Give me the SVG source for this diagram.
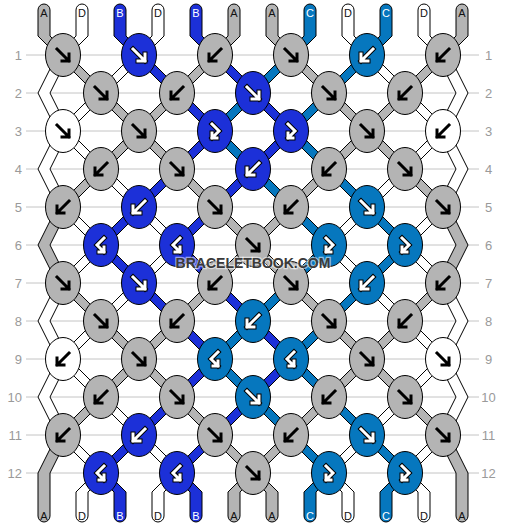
<svg xmlns="http://www.w3.org/2000/svg" xmlns:xlink="http://www.w3.org/1999/xlink" width="506" height="528" viewBox="0 0 506 528">
<style>
.bg{fill:#ffffff}
.rl{stroke:#c4c4c4;stroke-width:1}
.rn{font-family:"Liberation Sans",Arial,sans-serif;font-size:13px;fill:#9a9a9a}
.sl{font-family:"Liberation Sans",Arial,sans-serif;font-size:11px;text-anchor:middle}
.s{stroke:#000;stroke-width:1;stroke-linejoin:miter}
.g{fill:#b4b4b4}
.b{fill:#1c30d8}
.c{fill:#0677be}
.w{fill:#ffffff}
.k{stroke:#000;stroke-width:1}
.ab{fill:none;stroke:#000;stroke-width:3;stroke-linecap:square;stroke-linejoin:miter}
.ao{fill:none;stroke:#000;stroke-width:5;stroke-linecap:square;stroke-linejoin:miter}
.aw{fill:none;stroke:#fff;stroke-width:3;stroke-linecap:square;stroke-linejoin:miter}
.tw{fill:#fff}.tk{fill:#111}
.wm{font-family:"Liberation Sans",Arial,sans-serif;font-size:14px;font-weight:bold;text-anchor:middle;fill:#3a3a3a;stroke:#ffffff;stroke-opacity:0.55;stroke-width:2.5;paint-order:stroke}
</style>
<defs>
<path id="F" d="M-6,-6 L6,6 M6,-1 V6 H-1"/>
<path id="FB" d="M-3,-7 L4,0 L-3,7 M-3,2 V7 H2"/>
</defs>
<rect class="bg" x="0" y="0" width="506" height="528"/>
<g id="rows">
<line class="rl" x1="26" y1="55" x2="479" y2="55"/>
<line class="rl" x1="26" y1="93" x2="479" y2="93"/>
<line class="rl" x1="26" y1="131" x2="479" y2="131"/>
<line class="rl" x1="26" y1="169" x2="479" y2="169"/>
<line class="rl" x1="26" y1="207" x2="479" y2="207"/>
<line class="rl" x1="26" y1="245" x2="479" y2="245"/>
<line class="rl" x1="26" y1="283" x2="479" y2="283"/>
<line class="rl" x1="26" y1="321" x2="479" y2="321"/>
<line class="rl" x1="26" y1="359" x2="479" y2="359"/>
<line class="rl" x1="26" y1="397" x2="479" y2="397"/>
<line class="rl" x1="26" y1="435" x2="479" y2="435"/>
<line class="rl" x1="26" y1="473" x2="479" y2="473"/>
<g class="rn" text-anchor="end">
<text x="22" y="59.5">1</text><text x="22" y="97.5">2</text><text x="22" y="135.5">3</text><text x="22" y="173.5">4</text><text x="22" y="211.5">5</text><text x="22" y="249.5">6</text><text x="22" y="287.5">7</text><text x="22" y="325.5">8</text><text x="22" y="363.5">9</text><text x="22" y="401.5">10</text><text x="22" y="439.5">11</text><text x="22" y="477.5">12</text>
</g>
<g class="rn" text-anchor="middle">
<text x="488.5" y="59.5">1</text><text x="488.5" y="97.5">2</text><text x="488.5" y="135.5">3</text><text x="488.5" y="173.5">4</text><text x="488.5" y="211.5">5</text><text x="488.5" y="249.5">6</text><text x="488.5" y="287.5">7</text><text x="488.5" y="325.5">8</text><text x="488.5" y="363.5">9</text><text x="488.5" y="401.5">10</text><text x="488.5" y="439.5">11</text><text x="488.5" y="477.5">12</text>
</g>
</g>
<g id="connectors">
<path id="s0" class="s g" d="M38,10 L38,36 57,55 95,93 133,131 171,169 209,207 247,245 285,283 323,321 361,359 399,397 437,435 456,473 456,516 A6,6 0 0 0 468,516 L468,473 449,435 411,397 373,359 335,321 297,283 259,245 221,207 183,169 145,131 107,93 69,55 50,36 50,10 A6,6 0 0 0 38,10 Z"/>
<path id="s1" class="s w" d="M76,10 L76,36 57,55 38,93 57,131 95,169 133,207 171,245 133,283 95,321 57,359 38,397 57,435 95,473 76,492 76,516 A6,6 0 0 0 88,516 L88,492 107,473 69,435 50,397 69,359 107,321 145,283 183,245 145,207 107,169 69,131 50,93 69,55 88,36 88,10 A6,6 0 0 0 76,10 Z"/>
<path id="s2" class="s b" d="M114,10 L114,36 133,55 171,93 209,131 171,169 133,207 95,245 133,283 171,321 209,359 171,397 133,435 95,473 114,492 114,516 A6,6 0 0 0 126,516 L126,492 107,473 145,435 183,397 221,359 183,321 145,283 107,245 145,207 183,169 221,131 183,93 145,55 126,36 126,10 A6,6 0 0 0 114,10 Z"/>
<path id="s3" class="s w" d="M152,10 L152,36 133,55 95,93 57,131 38,169 57,207 95,245 57,283 38,321 57,359 95,397 133,435 171,473 152,492 152,516 A6,6 0 0 0 164,516 L164,492 183,473 145,435 107,397 69,359 50,321 69,283 107,245 69,207 50,169 69,131 107,93 145,55 164,36 164,10 A6,6 0 0 0 152,10 Z"/>
<path id="s4" class="s b" d="M190,10 L190,36 209,55 247,93 285,131 247,169 209,207 171,245 209,283 247,321 285,359 247,397 209,435 171,473 190,492 190,516 A6,6 0 0 0 202,516 L202,492 183,473 221,435 259,397 297,359 259,321 221,283 183,245 221,207 259,169 297,131 259,93 221,55 202,36 202,10 A6,6 0 0 0 190,10 Z"/>
<path id="s5" class="s g" d="M228,10 L228,36 209,55 171,93 133,131 95,169 57,207 38,245 57,283 95,321 133,359 171,397 209,435 247,473 266,492 266,516 A6,6 0 0 0 278,516 L278,492 259,473 221,435 183,397 145,359 107,321 69,283 50,245 69,207 107,169 145,131 183,93 221,55 240,36 240,10 A6,6 0 0 0 228,10 Z"/>
<path id="s6" class="s g" d="M266,10 L266,36 285,55 323,93 361,131 399,169 437,207 456,245 437,283 399,321 361,359 323,397 285,435 247,473 228,492 228,516 A6,6 0 0 0 240,516 L240,492 259,473 297,435 335,397 373,359 411,321 449,283 468,245 449,207 411,169 373,131 335,93 297,55 278,36 278,10 A6,6 0 0 0 266,10 Z"/>
<path id="s7" class="s c" d="M304,10 L304,36 285,55 247,93 209,131 247,169 285,207 323,245 285,283 247,321 209,359 247,397 285,435 323,473 304,492 304,516 A6,6 0 0 0 316,516 L316,492 335,473 297,435 259,397 221,359 259,321 297,283 335,245 297,207 259,169 221,131 259,93 297,55 316,36 316,10 A6,6 0 0 0 304,10 Z"/>
<path id="s8" class="s w" d="M342,10 L342,36 361,55 399,93 437,131 456,169 437,207 399,245 437,283 456,321 437,359 399,397 361,435 323,473 342,492 342,516 A6,6 0 0 0 354,516 L354,492 335,473 373,435 411,397 449,359 468,321 449,283 411,245 449,207 468,169 449,131 411,93 373,55 354,36 354,10 A6,6 0 0 0 342,10 Z"/>
<path id="s9" class="s c" d="M380,10 L380,36 361,55 323,93 285,131 323,169 361,207 399,245 361,283 323,321 285,359 323,397 361,435 399,473 380,492 380,516 A6,6 0 0 0 392,516 L392,492 411,473 373,435 335,397 297,359 335,321 373,283 411,245 373,207 335,169 297,131 335,93 373,55 392,36 392,10 A6,6 0 0 0 380,10 Z"/>
<path id="s10" class="s w" d="M418,10 L418,36 437,55 456,93 437,131 399,169 361,207 323,245 361,283 399,321 437,359 456,397 437,435 399,473 418,492 418,516 A6,6 0 0 0 430,516 L430,492 411,473 449,435 468,397 449,359 411,321 373,283 335,245 373,207 411,169 449,131 468,93 449,55 430,36 430,10 A6,6 0 0 0 418,10 Z"/>
<path id="s11" class="s g" d="M456,10 L456,36 437,55 399,93 361,131 323,169 285,207 247,245 209,283 171,321 133,359 95,397 57,435 38,473 38,516 A6,6 0 0 0 50,516 L50,473 69,435 107,397 145,359 183,321 221,283 259,245 297,207 335,169 373,131 411,93 449,55 468,36 468,10 A6,6 0 0 0 456,10 Z"/>
</g>
<g id="labels" class="sl">
<text class="tk" x="44" y="17">A</text><text class="tk" x="82" y="17">D</text><text class="tw" x="120" y="17">B</text><text class="tk" x="158" y="17">D</text><text class="tw" x="196" y="17">B</text><text class="tk" x="234" y="17">A</text><text class="tk" x="272" y="17">A</text><text class="tw" x="310" y="17">C</text><text class="tk" x="348" y="17">D</text><text class="tw" x="386" y="17">C</text><text class="tk" x="424" y="17">D</text><text class="tk" x="462" y="17">A</text>
<text class="tk" x="44" y="520">A</text><text class="tk" x="82" y="520">D</text><text class="tw" x="120" y="520">B</text><text class="tk" x="158" y="520">D</text><text class="tw" x="196" y="520">B</text><text class="tk" x="234" y="520">A</text><text class="tk" x="272" y="520">A</text><text class="tw" x="310" y="520">C</text><text class="tk" x="348" y="520">D</text><text class="tw" x="386" y="520">C</text><text class="tk" x="424" y="520">D</text><text class="tk" x="462" y="520">A</text>
</g>
<g id="knots">
<!-- row 1 -->
<g id="k1-1"><ellipse class="k g" cx="63" cy="55" rx="17.5" ry="21.5"/><use href="#F" class="ab" transform="translate(63,55)"/></g>
<g id="k1-2"><ellipse class="k b" cx="139" cy="55" rx="17.5" ry="21.5"/><use href="#F" class="ao" transform="translate(139,55)"/><use href="#F" class="aw" transform="translate(139,55)"/></g>
<g id="k1-3"><ellipse class="k g" cx="215" cy="55" rx="17.5" ry="21.5"/><use href="#F" class="ab" transform="translate(215,55) scale(-1,1)"/></g>
<g id="k1-4"><ellipse class="k g" cx="291" cy="55" rx="17.5" ry="21.5"/><use href="#F" class="ab" transform="translate(291,55)"/></g>
<g id="k1-5"><ellipse class="k c" cx="367" cy="55" rx="17.5" ry="21.5"/><use href="#F" class="ao" transform="translate(367,55) scale(-1,1)"/><use href="#F" class="aw" transform="translate(367,55) scale(-1,1)"/></g>
<g id="k1-6"><ellipse class="k g" cx="443" cy="55" rx="17.5" ry="21.5"/><use href="#F" class="ab" transform="translate(443,55) scale(-1,1)"/></g>
<!-- row 2 -->
<g id="k2-1"><ellipse class="k g" cx="101" cy="93" rx="17.5" ry="21.5"/><use href="#F" class="ab" transform="translate(101,93)"/></g>
<g id="k2-2"><ellipse class="k g" cx="177" cy="93" rx="17.5" ry="21.5"/><use href="#F" class="ab" transform="translate(177,93) scale(-1,1)"/></g>
<g id="k2-3"><ellipse class="k b" cx="253" cy="93" rx="17.5" ry="21.5"/><use href="#F" class="ao" transform="translate(253,93)"/><use href="#F" class="aw" transform="translate(253,93)"/></g>
<g id="k2-4"><ellipse class="k g" cx="329" cy="93" rx="17.5" ry="21.5"/><use href="#F" class="ab" transform="translate(329,93)"/></g>
<g id="k2-5"><ellipse class="k g" cx="405" cy="93" rx="17.5" ry="21.5"/><use href="#F" class="ab" transform="translate(405,93) scale(-1,1)"/></g>
<!-- row 3 -->
<g id="k3-1"><ellipse class="k w" cx="63" cy="131" rx="17.5" ry="21.5"/><use href="#F" class="ab" transform="translate(63,131)"/></g>
<g id="k3-2"><ellipse class="k g" cx="139" cy="131" rx="17.5" ry="21.5"/><use href="#F" class="ab" transform="translate(139,131)"/></g>
<g id="k3-3"><ellipse class="k b" cx="215" cy="131" rx="17.5" ry="21.5"/><use href="#FB" class="ao" transform="translate(215,131)"/><use href="#FB" class="aw" transform="translate(215,131)"/></g>
<g id="k3-4"><ellipse class="k b" cx="291" cy="131" rx="17.5" ry="21.5"/><use href="#FB" class="ao" transform="translate(291,131)"/><use href="#FB" class="aw" transform="translate(291,131)"/></g>
<g id="k3-5"><ellipse class="k g" cx="367" cy="131" rx="17.5" ry="21.5"/><use href="#F" class="ab" transform="translate(367,131)"/></g>
<g id="k3-6"><ellipse class="k w" cx="443" cy="131" rx="17.5" ry="21.5"/><use href="#F" class="ab" transform="translate(443,131) scale(-1,1)"/></g>
<!-- row 4 -->
<g id="k4-1"><ellipse class="k g" cx="101" cy="169" rx="17.5" ry="21.5"/><use href="#F" class="ab" transform="translate(101,169) scale(-1,1)"/></g>
<g id="k4-2"><ellipse class="k g" cx="177" cy="169" rx="17.5" ry="21.5"/><use href="#F" class="ab" transform="translate(177,169)"/></g>
<g id="k4-3"><ellipse class="k b" cx="253" cy="169" rx="17.5" ry="21.5"/><use href="#F" class="ao" transform="translate(253,169) scale(-1,1)"/><use href="#F" class="aw" transform="translate(253,169) scale(-1,1)"/></g>
<g id="k4-4"><ellipse class="k g" cx="329" cy="169" rx="17.5" ry="21.5"/><use href="#F" class="ab" transform="translate(329,169) scale(-1,1)"/></g>
<g id="k4-5"><ellipse class="k g" cx="405" cy="169" rx="17.5" ry="21.5"/><use href="#F" class="ab" transform="translate(405,169)"/></g>
<!-- row 5 -->
<g id="k5-1"><ellipse class="k g" cx="63" cy="207" rx="17.5" ry="21.5"/><use href="#F" class="ab" transform="translate(63,207) scale(-1,1)"/></g>
<g id="k5-2"><ellipse class="k b" cx="139" cy="207" rx="17.5" ry="21.5"/><use href="#F" class="ao" transform="translate(139,207) scale(-1,1)"/><use href="#F" class="aw" transform="translate(139,207) scale(-1,1)"/></g>
<g id="k5-3"><ellipse class="k g" cx="215" cy="207" rx="17.5" ry="21.5"/><use href="#F" class="ab" transform="translate(215,207)"/></g>
<g id="k5-4"><ellipse class="k g" cx="291" cy="207" rx="17.5" ry="21.5"/><use href="#F" class="ab" transform="translate(291,207) scale(-1,1)"/></g>
<g id="k5-5"><ellipse class="k c" cx="367" cy="207" rx="17.5" ry="21.5"/><use href="#F" class="ao" transform="translate(367,207)"/><use href="#F" class="aw" transform="translate(367,207)"/></g>
<g id="k5-6"><ellipse class="k g" cx="443" cy="207" rx="17.5" ry="21.5"/><use href="#F" class="ab" transform="translate(443,207)"/></g>
<!-- row 6 -->
<g id="k6-1"><ellipse class="k b" cx="101" cy="245" rx="17.5" ry="21.5"/><use href="#FB" class="ao" transform="translate(101,245) scale(-1,1)"/><use href="#FB" class="aw" transform="translate(101,245) scale(-1,1)"/></g>
<g id="k6-2"><ellipse class="k b" cx="177" cy="245" rx="17.5" ry="21.5"/><use href="#FB" class="ao" transform="translate(177,245) scale(-1,1)"/><use href="#FB" class="aw" transform="translate(177,245) scale(-1,1)"/></g>
<g id="k6-3"><ellipse class="k g" cx="253" cy="245" rx="17.5" ry="21.5"/><use href="#F" class="ab" transform="translate(253,245)"/></g>
<g id="k6-4"><ellipse class="k c" cx="329" cy="245" rx="17.5" ry="21.5"/><use href="#FB" class="ao" transform="translate(329,245)"/><use href="#FB" class="aw" transform="translate(329,245)"/></g>
<g id="k6-5"><ellipse class="k c" cx="405" cy="245" rx="17.5" ry="21.5"/><use href="#FB" class="ao" transform="translate(405,245)"/><use href="#FB" class="aw" transform="translate(405,245)"/></g>
<!-- row 7 -->
<g id="k7-1"><ellipse class="k g" cx="63" cy="283" rx="17.5" ry="21.5"/><use href="#F" class="ab" transform="translate(63,283)"/></g>
<g id="k7-2"><ellipse class="k b" cx="139" cy="283" rx="17.5" ry="21.5"/><use href="#F" class="ao" transform="translate(139,283)"/><use href="#F" class="aw" transform="translate(139,283)"/></g>
<g id="k7-3"><ellipse class="k g" cx="215" cy="283" rx="17.5" ry="21.5"/><use href="#F" class="ab" transform="translate(215,283) scale(-1,1)"/></g>
<g id="k7-4"><ellipse class="k g" cx="291" cy="283" rx="17.5" ry="21.5"/><use href="#F" class="ab" transform="translate(291,283)"/></g>
<g id="k7-5"><ellipse class="k c" cx="367" cy="283" rx="17.5" ry="21.5"/><use href="#F" class="ao" transform="translate(367,283) scale(-1,1)"/><use href="#F" class="aw" transform="translate(367,283) scale(-1,1)"/></g>
<g id="k7-6"><ellipse class="k g" cx="443" cy="283" rx="17.5" ry="21.5"/><use href="#F" class="ab" transform="translate(443,283) scale(-1,1)"/></g>
<!-- row 8 -->
<g id="k8-1"><ellipse class="k g" cx="101" cy="321" rx="17.5" ry="21.5"/><use href="#F" class="ab" transform="translate(101,321)"/></g>
<g id="k8-2"><ellipse class="k g" cx="177" cy="321" rx="17.5" ry="21.5"/><use href="#F" class="ab" transform="translate(177,321) scale(-1,1)"/></g>
<g id="k8-3"><ellipse class="k c" cx="253" cy="321" rx="17.5" ry="21.5"/><use href="#F" class="ao" transform="translate(253,321) scale(-1,1)"/><use href="#F" class="aw" transform="translate(253,321) scale(-1,1)"/></g>
<g id="k8-4"><ellipse class="k g" cx="329" cy="321" rx="17.5" ry="21.5"/><use href="#F" class="ab" transform="translate(329,321)"/></g>
<g id="k8-5"><ellipse class="k g" cx="405" cy="321" rx="17.5" ry="21.5"/><use href="#F" class="ab" transform="translate(405,321) scale(-1,1)"/></g>
<!-- row 9 -->
<g id="k9-1"><ellipse class="k w" cx="63" cy="359" rx="17.5" ry="21.5"/><use href="#F" class="ab" transform="translate(63,359) scale(-1,1)"/></g>
<g id="k9-2"><ellipse class="k g" cx="139" cy="359" rx="17.5" ry="21.5"/><use href="#F" class="ab" transform="translate(139,359)"/></g>
<g id="k9-3"><ellipse class="k c" cx="215" cy="359" rx="17.5" ry="21.5"/><use href="#FB" class="ao" transform="translate(215,359) scale(-1,1)"/><use href="#FB" class="aw" transform="translate(215,359) scale(-1,1)"/></g>
<g id="k9-4"><ellipse class="k c" cx="291" cy="359" rx="17.5" ry="21.5"/><use href="#FB" class="ao" transform="translate(291,359) scale(-1,1)"/><use href="#FB" class="aw" transform="translate(291,359) scale(-1,1)"/></g>
<g id="k9-5"><ellipse class="k g" cx="367" cy="359" rx="17.5" ry="21.5"/><use href="#F" class="ab" transform="translate(367,359)"/></g>
<g id="k9-6"><ellipse class="k w" cx="443" cy="359" rx="17.5" ry="21.5"/><use href="#F" class="ab" transform="translate(443,359)"/></g>
<!-- row 10 -->
<g id="k10-1"><ellipse class="k g" cx="101" cy="397" rx="17.5" ry="21.5"/><use href="#F" class="ab" transform="translate(101,397) scale(-1,1)"/></g>
<g id="k10-2"><ellipse class="k g" cx="177" cy="397" rx="17.5" ry="21.5"/><use href="#F" class="ab" transform="translate(177,397)"/></g>
<g id="k10-3"><ellipse class="k c" cx="253" cy="397" rx="17.5" ry="21.5"/><use href="#F" class="ao" transform="translate(253,397)"/><use href="#F" class="aw" transform="translate(253,397)"/></g>
<g id="k10-4"><ellipse class="k g" cx="329" cy="397" rx="17.5" ry="21.5"/><use href="#F" class="ab" transform="translate(329,397) scale(-1,1)"/></g>
<g id="k10-5"><ellipse class="k g" cx="405" cy="397" rx="17.5" ry="21.5"/><use href="#F" class="ab" transform="translate(405,397)"/></g>
<!-- row 11 -->
<g id="k11-1"><ellipse class="k g" cx="63" cy="435" rx="17.5" ry="21.5"/><use href="#F" class="ab" transform="translate(63,435) scale(-1,1)"/></g>
<g id="k11-2"><ellipse class="k b" cx="139" cy="435" rx="17.5" ry="21.5"/><use href="#F" class="ao" transform="translate(139,435) scale(-1,1)"/><use href="#F" class="aw" transform="translate(139,435) scale(-1,1)"/></g>
<g id="k11-3"><ellipse class="k g" cx="215" cy="435" rx="17.5" ry="21.5"/><use href="#F" class="ab" transform="translate(215,435)"/></g>
<g id="k11-4"><ellipse class="k g" cx="291" cy="435" rx="17.5" ry="21.5"/><use href="#F" class="ab" transform="translate(291,435) scale(-1,1)"/></g>
<g id="k11-5"><ellipse class="k c" cx="367" cy="435" rx="17.5" ry="21.5"/><use href="#F" class="ao" transform="translate(367,435)"/><use href="#F" class="aw" transform="translate(367,435)"/></g>
<g id="k11-6"><ellipse class="k g" cx="443" cy="435" rx="17.5" ry="21.5"/><use href="#F" class="ab" transform="translate(443,435)"/></g>
<!-- row 12 -->
<g id="k12-1"><ellipse class="k b" cx="101" cy="473" rx="17.5" ry="21.5"/><use href="#FB" class="ao" transform="translate(101,473) scale(-1,1)"/><use href="#FB" class="aw" transform="translate(101,473) scale(-1,1)"/></g>
<g id="k12-2"><ellipse class="k b" cx="177" cy="473" rx="17.5" ry="21.5"/><use href="#FB" class="ao" transform="translate(177,473) scale(-1,1)"/><use href="#FB" class="aw" transform="translate(177,473) scale(-1,1)"/></g>
<g id="k12-3"><ellipse class="k g" cx="253" cy="473" rx="17.5" ry="21.5"/><use href="#F" class="ab" transform="translate(253,473)"/></g>
<g id="k12-4"><ellipse class="k c" cx="329" cy="473" rx="17.5" ry="21.5"/><use href="#FB" class="ao" transform="translate(329,473)"/><use href="#FB" class="aw" transform="translate(329,473)"/></g>
<g id="k12-5"><ellipse class="k c" cx="405" cy="473" rx="17.5" ry="21.5"/><use href="#FB" class="ao" transform="translate(405,473)"/><use href="#FB" class="aw" transform="translate(405,473)"/></g>
</g>
<text class="wm" x="253" y="268">BRACELETBOOK.COM</text>
</svg>
